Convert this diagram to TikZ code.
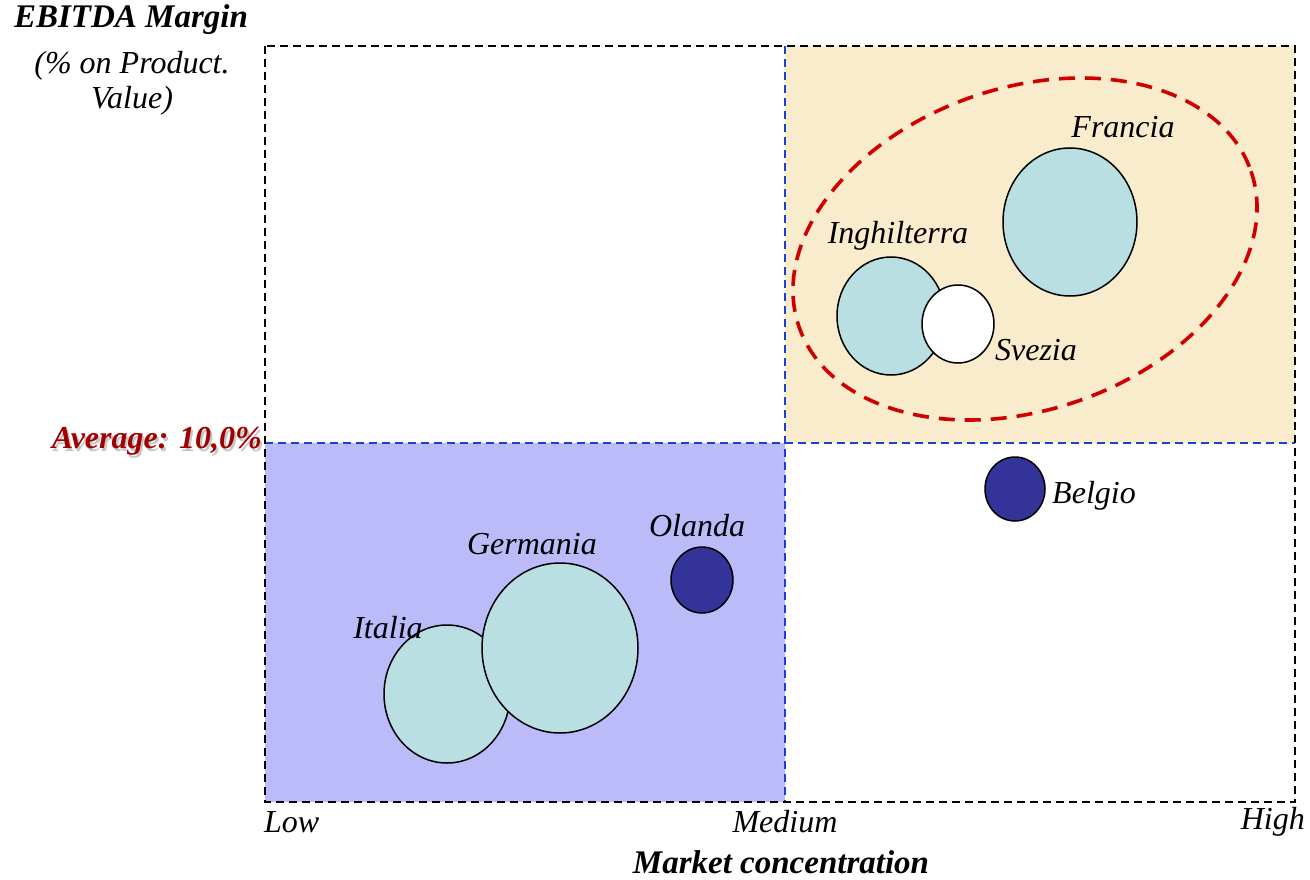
\documentclass[tikz,border=0pt]{standalone}
\usepackage{fontspec}
\setmainfont{Liberation Serif}
\usetikzlibrary{shapes.geometric}
\definecolor{beige}{HTML}{F8ECCD}
\definecolor{lav}{HTML}{BBBBFA}
\definecolor{bub}{HTML}{B9DFE2}
\definecolor{navy}{HTML}{333399}
\definecolor{dred}{HTML}{A00000}
\definecolor{ered}{HTML}{D00000}
\definecolor{gblue}{HTML}{1A3FD8}
\tikzset{
  frame/.style={draw=black, line width=1.6pt, dash pattern=on 8pt off 5pt},
  divider/.style={draw=gblue, line width=1.6pt, dash pattern=on 8pt off 5pt},
  bubble/.style={ellipse, draw=black, line width=1.5pt, inner sep=0pt},
  lbl/.style={font=\fontsize{32}{36}\selectfont\itshape, inner sep=0pt},
  axlbl/.style={font=\fontsize{32}{35}\selectfont\itshape, inner sep=0pt, align=center},
  boldlbl/.style={font=\fontsize{33}{38}\selectfont\bfseries\itshape, inner sep=0pt},
}
\begin{document}
\begin{tikzpicture}[x=1pt,y=-1pt]
\useasboundingbox (0,0) rectangle (1310,880);
% quadrant fills
\fill[beige] (785,46) rectangle (1295,443);
\fill[lav] (265,443) rectangle (785,802);
% dividers and frame
\draw[divider] (785,46) -- (785,802);
\draw[divider] (265,443) -- (1295,443);
\draw[frame] (265,46) rectangle (1295,802);
% cluster ellipse
\draw[ered, line width=3.6pt, dash pattern=on 16pt off 10pt, rotate around={19:(1025,249)}] (1025,249) ellipse [x radius=239, y radius=161];
% bubbles
\node[bubble, fill=bub, minimum width=134pt, minimum height=148pt] (francia) at (1070,222) {};
\node[bubble, fill=bub, minimum width=108pt, minimum height=118pt] (inghilterra) at (891,316) {};
\node[bubble, fill=white, minimum width=72pt, minimum height=78pt] (svezia) at (958,324) {};
\node[bubble, fill=navy, minimum width=60pt, minimum height=64pt] (belgio) at (1015,489) {};
\node[bubble, fill=navy, minimum width=62pt, minimum height=66pt] (olanda) at (702,580) {};
\node[bubble, fill=bub, minimum width=126pt, minimum height=138pt] (italia) at (447,694) {};
\node[bubble, fill=bub, minimum width=156pt, minimum height=170pt] (germania) at (560,648) {};
% bubble labels
\node[lbl] (lfrancia) at (1123,127) {Francia};
\node[lbl] (linghilterra) at (898,236) {Inghilterra};
\node[lbl] (lsvezia) at (1036,350) {Svezia};
\node[lbl] (lbelgio) at (1094,496) {Belgio};
\node[lbl] (lolanda) at (697,526) {Olanda};
\node[lbl] (lgermania) at (532,544) {Germania};
\node[lbl] (litalia) at (388,628) {Italia};
% axes labels
\node[boldlbl] (ytitle) at (131,20) {EBITDA Margin};
\node[axlbl] (ysub) at (132,83) {(\% on Product.\\Value)};
\node[font=\fontsize{32}{36}\selectfont\bfseries\itshape, inner sep=0pt, anchor=east] (avg) at (262,443)
  {\rlap{\hspace{2pt}\raisebox{-3pt}{\textcolor{black!22}{Average: 10,0\%}}}\textcolor{dred}{Average: 10,0\%}};
\node[lbl, anchor=west] (low) at (264,822) {Low};
\node[lbl] (medium) at (785,822) {Medium};
\node[lbl, anchor=east] (high) at (1305,822) {High};
\node[boldlbl] (xtitle) at (781,862) {Market concentration};
\end{tikzpicture}
\end{document}
